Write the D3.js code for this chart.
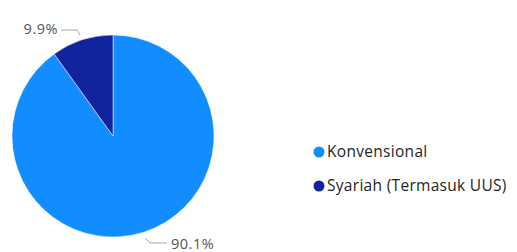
<!DOCTYPE html>
<html>
<head>
<meta charset="utf-8">
<script src="https://cdn.jsdelivr.net/npm/d3@7"></script>
<style>
  body { margin: 0; background: #fff; }
  text { font-family: "Segoe UI", "Open Sans", sans-serif; }
</style>
</head>
<body>
<div class="chart"></div>
<script>
// data
var categories = ["Konvensional", "Syariah (Termasuk UUS)"];
var values = [90.1, 9.9];
var colors = ["#118DFF", "#12239E"];

var width = 517, height = 252;
var cx = 113, cy = 136, r = 101;

var svg = d3.select(".chart")
  .append("svg")
    .attr("width", width)
    .attr("height", height);

var pie = d3.pie().sort(null).value(function(d) { return d; });
var arcs = pie(values);
var arc = d3.arc().innerRadius(0).outerRadius(r);

var g = svg.append("g").attr("transform", "translate(" + cx + "," + cy + ")");

g.selectAll("path")
  .data(arcs)
  .enter().append("path")
    .attr("d", arc)
    .attr("fill", function(d, i) { return colors[i]; })
    .attr("stroke", "#fff")
    .attr("stroke-width", 0.5);

// labels with leader lines (hand placed like the original)
var leaders = [
  { pts: [[32, 102], [37, 107], [54, 107]], x: 58, y: 108, anchor: "start" },
  { pts: [[-33, -101], [-36, -106], [-52, -106]], x: -55, y: -107, anchor: "end" }
];
arcs.forEach(function(d, i) {
  var l = leaders[i];
  g.append("path")
    .attr("d", d3.line()(l.pts))
    .attr("fill", "none")
    .attr("stroke", "#A6A6A6")
    .attr("stroke-width", 1);
  g.append("text")
    .attr("x", l.x).attr("y", l.y)
    .attr("dy", "0.35em")
    .attr("font-size", 14.5)
    .attr("letter-spacing", 0.5)
    .attr("fill", "#555")
    .attr("text-anchor", l.anchor)
    .text(d3.format(".1f")(values[i]) + "%");
});

// legend
var legend = svg.append("g").attr("transform", "translate(319,152)");
var item = legend.selectAll("g")
  .data(categories)
  .enter().append("g")
    .attr("transform", function(d, i) { return "translate(0," + i * 34 + ")"; });

item.append("circle")
  .attr("r", 5.5)
  .attr("fill", function(d, i) { return colors[i]; });

item.append("text")
  .attr("x", 8)
  .attr("dy", "0.35em")
  .attr("font-size", 15.5)
  .attr("letter-spacing", 0.3)
  .attr("fill", "#252423")
  .text(function(d) { return d; });
</script>
</body>
</html>
